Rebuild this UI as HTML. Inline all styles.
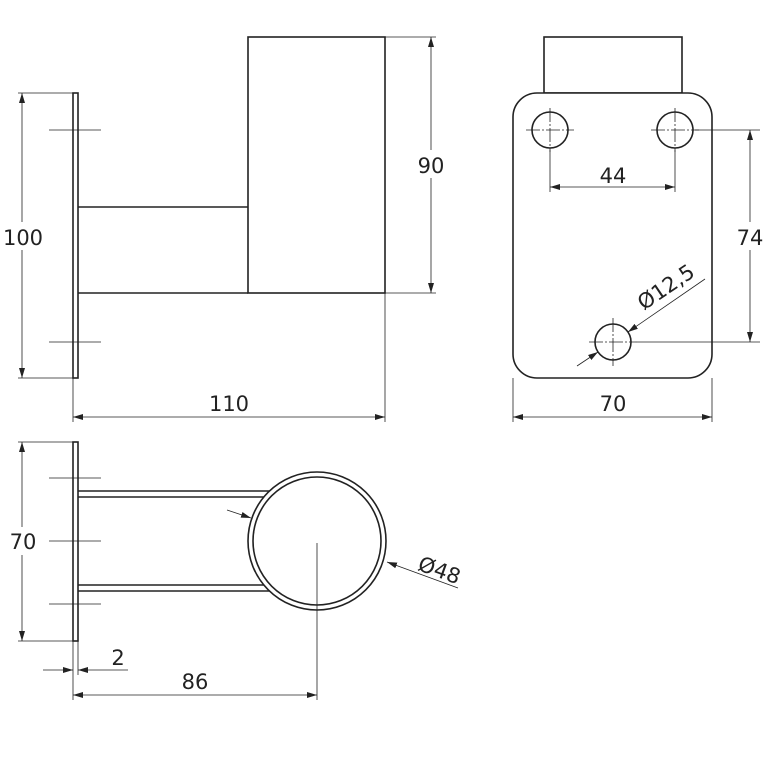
<!DOCTYPE html>
<html><head><style>body{margin:0;background:#fff}svg{display:block}</style></head>
<body>
<svg width="768" height="768" viewBox="0 0 768 768" xmlns="http://www.w3.org/2000/svg" font-family="'DejaVu Sans','Liberation Sans',sans-serif" font-size="21" fill="none" stroke="#222">
<defs>
<marker id="a" viewBox="0 0 10 6" refX="10" refY="3" markerWidth="10" markerHeight="6" orient="auto-start-reverse" markerUnits="userSpaceOnUse"><path d="M0,0 L10,3 L0,6 z" fill="#222" stroke="none"/></marker>
</defs>
<!-- Top-left view -->
<g stroke-width="1.6">
<rect x="73" y="93" width="5" height="285"/>
<rect x="248" y="37" width="137" height="256"/>
<line x1="78" y1="207" x2="248" y2="207"/>
<line x1="78" y1="293" x2="248" y2="293"/>
</g>
<g stroke-width="0.8">
<line x1="49" y1="130" x2="101" y2="130"/>
<line x1="49" y1="342" x2="101" y2="342"/>
<line x1="18" y1="93" x2="73" y2="93"/>
<line x1="18" y1="378" x2="73" y2="378"/>
<line x1="22" y1="93" x2="22" y2="378" marker-start="url(#a)" marker-end="url(#a)"/>
<line x1="73" y1="378" x2="73" y2="422"/>
<line x1="385" y1="293" x2="385" y2="422"/>
<line x1="73" y1="417" x2="385" y2="417" marker-start="url(#a)" marker-end="url(#a)"/>
<line x1="385" y1="37" x2="436" y2="37"/>
<line x1="385" y1="293" x2="436" y2="293"/>
<line x1="431" y1="37" x2="431" y2="293" marker-start="url(#a)" marker-end="url(#a)"/>
</g>
<g fill="#222" stroke="none" text-anchor="middle">
<rect x="0" y="222" width="48" height="28" fill="#fff"/>
<text x="23" y="245">100</text>
<text x="229" y="411">110</text>
<rect x="412" y="150" width="38" height="28" fill="#fff"/>
<text x="431" y="173">90</text>
</g>
<!-- Right view -->
<g stroke-width="1.6">
<rect x="544" y="37" width="138" height="56"/>
<rect x="513" y="93" width="199" height="285" rx="24" fill="#fff"/>
<circle cx="550" cy="130" r="18"/>
<circle cx="675" cy="130" r="18"/>
<circle cx="613" cy="342" r="18"/>
</g>
<g stroke-width="0.8">
<g stroke-dasharray="14,2,2,2">
<line x1="526" y1="130" x2="574" y2="130"/><line x1="550" y1="108" x2="550" y2="152"/>
<line x1="651" y1="130" x2="699" y2="130"/><line x1="675" y1="108" x2="675" y2="152"/>
<line x1="589" y1="342" x2="637" y2="342"/><line x1="613" y1="318" x2="613" y2="366"/>
</g>
<line x1="550" y1="150" x2="550" y2="192"/>
<line x1="675" y1="150" x2="675" y2="192"/>
<line x1="550" y1="187" x2="675" y2="187" marker-start="url(#a)" marker-end="url(#a)"/>
<line x1="695" y1="130" x2="760" y2="130"/>
<line x1="637" y1="342" x2="760" y2="342"/>
<line x1="750" y1="130" x2="750" y2="342" marker-start="url(#a)" marker-end="url(#a)"/>
<line x1="513" y1="378" x2="513" y2="422"/>
<line x1="712" y1="378" x2="712" y2="422"/>
<line x1="513" y1="417" x2="712" y2="417" marker-start="url(#a)" marker-end="url(#a)"/>
<line x1="705" y1="279" x2="628" y2="332" marker-end="url(#a)"/>
<line x1="577" y1="366" x2="598" y2="352" marker-end="url(#a)"/>
</g>
<g fill="#222" stroke="none" text-anchor="middle">
<text x="613" y="183">44</text>
<rect x="732" y="222" width="36" height="28" fill="#fff"/>
<text x="750" y="245">74</text>
<text x="613" y="411">70</text>
<text x="670" y="293" transform="rotate(-34 670 293)">Ø12,5</text>
</g>
<!-- Bottom view -->
<g stroke-width="1.6">
<rect x="73" y="442" width="5" height="199"/>
<line x1="78" y1="491" x2="272" y2="491"/>
<line x1="78" y1="497" x2="266" y2="497"/>
<line x1="78" y1="585" x2="266" y2="585"/>
<line x1="78" y1="591" x2="272" y2="591"/>
<circle cx="317" cy="541" r="69" fill="#fff"/>
<circle cx="317" cy="541" r="64"/>
</g>
<g stroke-width="0.8">
<line x1="49" y1="478" x2="101" y2="478"/>
<line x1="49" y1="541" x2="101" y2="541"/>
<line x1="49" y1="604" x2="101" y2="604"/>
<line x1="18" y1="442" x2="73" y2="442"/>
<line x1="18" y1="641" x2="73" y2="641"/>
<line x1="22" y1="442" x2="22" y2="641" marker-start="url(#a)" marker-end="url(#a)"/>
<line x1="73" y1="641" x2="73" y2="700"/>
<line x1="78" y1="641" x2="78" y2="675"/>
<line x1="43" y1="670" x2="73" y2="670" marker-end="url(#a)"/>
<line x1="128" y1="670" x2="78" y2="670" marker-end="url(#a)"/>
<line x1="317" y1="543" x2="317" y2="700"/>
<line x1="73" y1="695" x2="317" y2="695" marker-start="url(#a)" marker-end="url(#a)"/>
<line x1="458" y1="588" x2="387" y2="562" marker-end="url(#a)"/>
<line x1="227" y1="510" x2="251" y2="518" marker-end="url(#a)"/>
</g>
<g fill="#222" stroke="none" text-anchor="middle">
<rect x="2" y="527" width="40" height="28" fill="#fff"/>
<text x="23" y="549">70</text>
<text x="118" y="665">2</text>
<text x="195" y="689">86</text>
<text x="437" y="577" transform="rotate(20 437 577)">Ø48</text>
</g>
</svg>
</body></html>
